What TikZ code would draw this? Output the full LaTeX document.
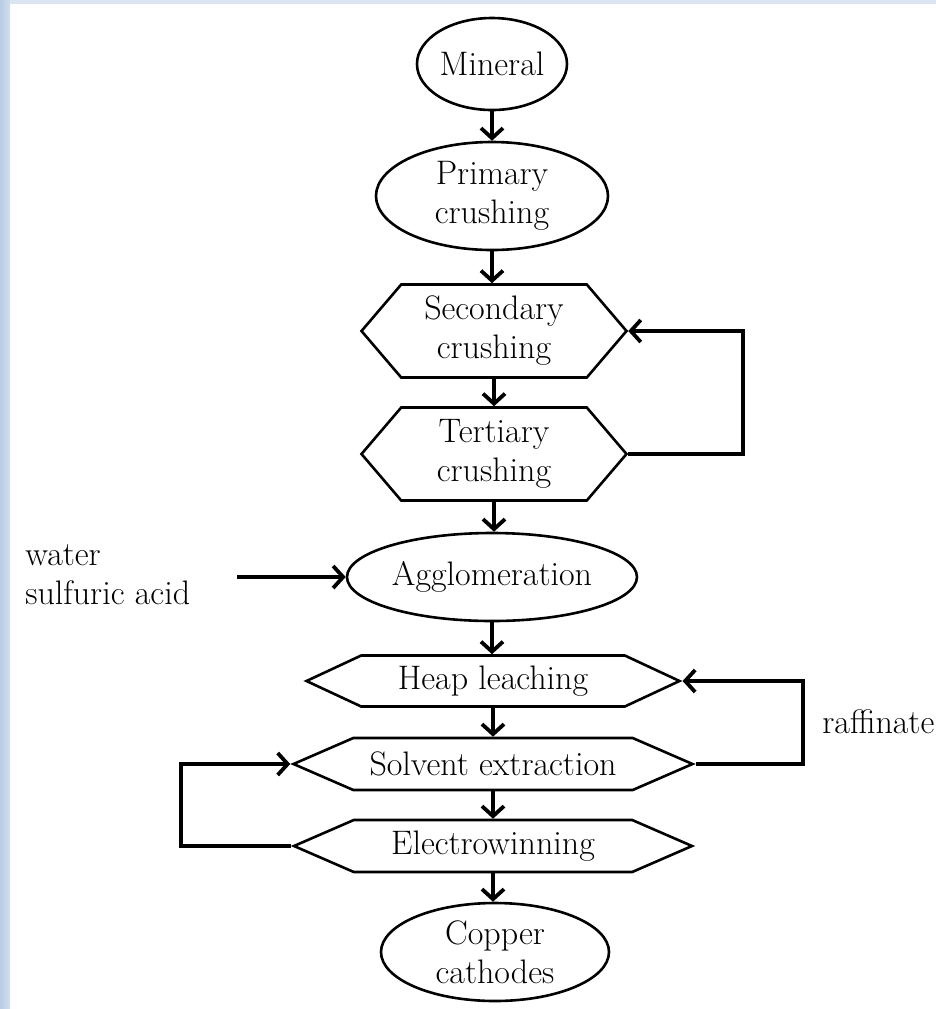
\documentclass[tikz,border=0pt]{standalone}
\usetikzlibrary{shapes.geometric,shapes.symbols,arrows.meta}

\definecolor{bandblue}{HTML}{DBE5F1}
\definecolor{banddark}{HTML}{B8CCE4}

\begin{document}
\begin{tikzpicture}[x=0.5pt,y=-0.5pt,
    font=\fontsize{17}{19.5}\selectfont,
    oval/.style={ellipse, draw, line width=1.3pt, inner sep=0pt, align=center},
    hexa/.style={signal, signal to=west and east, draw, line width=1.3pt,
        inner sep=1pt, align=center},
    flow/.style={-{Straight Barb[length=5pt,width=11pt]}, line width=1.9pt}]

    % Frame and background bands
    \useasboundingbox (0,0) rectangle (936,1009);
    \fill[bandblue] (0,0) rectangle (936,4);
    \shade[left color=banddark, right color=bandblue!70!banddark] (0,0) rectangle (10,1009);

    % Process steps
    \node[oval, minimum width=75pt, minimum height=46pt, inner xsep=-2pt] (mineral) at (492,64) {Mineral};
    \node[oval, minimum width=116pt, minimum height=54pt] (primary) at (492,196) {Primary\\crushing};
    \node[hexa, minimum width=132.5pt, minimum height=46.5pt, signal pointer angle=99] (secondary) at (494,331) {Secondary\\crushing};
    \node[hexa, minimum width=132.5pt, minimum height=46.5pt, signal pointer angle=99] (tertiary) at (494,454) {Tertiary\\crushing};
    \node[oval, minimum width=145pt, minimum height=44pt, inner xsep=-3pt] (agglo) at (492,577) {Agglomeration};
    \node[hexa, minimum width=186.5pt, minimum height=25.5pt, signal pointer angle=50] (heap) at (493,681) {Heap leaching};
    \node[hexa, minimum width=199.5pt, minimum height=26pt, signal pointer angle=47] (solvent) at (493,764) {Solvent extraction};
    \node[hexa, minimum width=199pt, minimum height=26pt, signal pointer angle=47] (electro) at (493,846) {Electrowinning};
    \node[oval, minimum width=114pt, minimum height=49pt] (cathodes) at (495,952) {Copper\\cathodes};

    % Side labels
    \node[anchor=west, align=left, inner sep=0pt] (reagents) at (25,575) {water\\sulfuric acid};
    \node[anchor=west, inner sep=0pt] (raffinate) at (822,722) {raffinate};
    \coordinate (feed) at (237,577);

    % Main flow
    \foreach \a/\b in {mineral/primary, primary/secondary, secondary/tertiary,
        tertiary/agglo, agglo/heap, heap/solvent, solvent/electro, electro/cathodes}
        \draw[flow] (\a.south) -- (\a.south |- \b.north);

    % Recycle loops and reagent feed
    \draw[flow] (tertiary.east) -- ++(115,0) |- (secondary.east);
    \draw[flow] (solvent.east) -- ++(107,0) |- (heap.east);
    \draw[flow] (electro.west) -- ++(-110,0) |- (solvent.west);
    \draw[flow] (feed) -- (agglo.west);

\end{tikzpicture}
\end{document}
